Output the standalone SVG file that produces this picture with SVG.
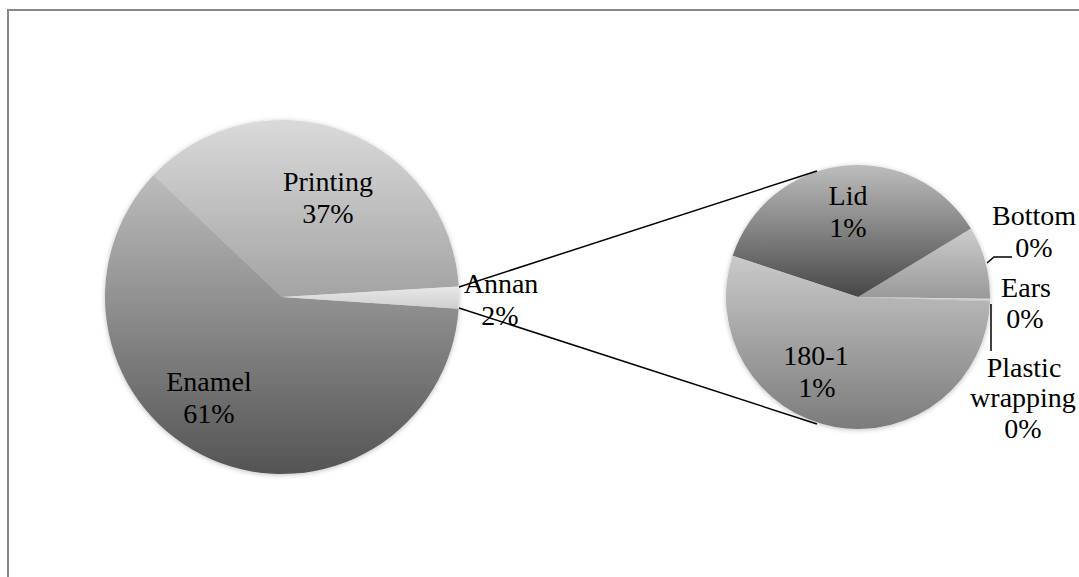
<svg xmlns="http://www.w3.org/2000/svg" width="1079" height="577" viewBox="0 0 1079 577">
<style>
.lbl{font-family:"Liberation Serif","Times New Roman",serif;font-size:28px;fill:#000;text-anchor:middle}
.conn{stroke:#000;stroke-width:1.5;fill:none}
</style>
<defs>
<filter id="sh" x="-10%" y="-10%" width="120%" height="120%">
<feDropShadow dx="0" dy="1" stdDeviation="2.5" flood-color="#000" flood-opacity="0.25"/>
</filter>
<linearGradient id="gPrint" gradientUnits="userSpaceOnUse" x1="0" y1="120" x2="0" y2="297"><stop offset="0" stop-color="#dadada"/><stop offset="1" stop-color="#a3a3a3"/></linearGradient>
<linearGradient id="gEnamel" gradientUnits="userSpaceOnUse" x1="0" y1="175" x2="0" y2="474"><stop offset="0" stop-color="#bcbcbc"/><stop offset="1" stop-color="#545454"/></linearGradient>
<linearGradient id="gAnnan" gradientUnits="userSpaceOnUse" x1="0" y1="286" x2="0" y2="309"><stop offset="0" stop-color="#e8e8e8"/><stop offset="1" stop-color="#cfcfcf"/></linearGradient>
<linearGradient id="gLid" gradientUnits="userSpaceOnUse" x1="0" y1="165" x2="0" y2="297"><stop offset="0" stop-color="#bdbdbd"/><stop offset="1" stop-color="#474747"/></linearGradient>
<linearGradient id="gBottom" gradientUnits="userSpaceOnUse" x1="0" y1="228" x2="0" y2="297"><stop offset="0" stop-color="#cdcdcd"/><stop offset="1" stop-color="#9a9a9a"/></linearGradient>
<linearGradient id="g180" gradientUnits="userSpaceOnUse" x1="0" y1="255" x2="0" y2="429"><stop offset="0" stop-color="#cacaca"/><stop offset="1" stop-color="#7b7b7b"/></linearGradient>
</defs>
<rect width="1079" height="577" fill="#fff"/>
<path d="M8,577 V10 H1079" fill="none" stroke="#888" stroke-width="2"/>

<g id="main-pie" filter="url(#sh)">
<g id="printing"><path d="M282,297 L458.69,286.50 A177,177 0 0 0 153.43,175.35 Z" fill="url(#gPrint)"/></g>
<g id="enamel"><path d="M282,297 L153.43,175.35 A177,177 0 1 0 458.61,308.73 Z" fill="url(#gEnamel)"/></g>
<g id="annan"><path d="M282,297 L458.61,308.73 A177,177 0 0 0 458.69,286.50 Z" fill="url(#gAnnan)"/></g>
</g>

<g id="secondary-pie" filter="url(#sh)">
<g id="bottom"><path d="M858,297 L989.99,298.84 A132,132 0 0 0 970.93,228.62 Z" fill="url(#gBottom)"/></g>
<g id="lid"><path d="M858,297 L970.93,228.62 A132,132 0 0 0 732.60,255.77 Z" fill="url(#gLid)"/></g>
<g id="n180-1"><path d="M858,297 L732.60,255.77 A132,132 0 1 0 989.94,301.15 Z" fill="url(#g180)"/></g>
<g id="plastic"><path d="M858,297 L989.94,301.15 A132,132 0 0 0 989.97,299.76 Z" fill="#c4c4c4"/></g>
<g id="ears"><path d="M858,297 L989.97,299.76 A132,132 0 0 0 989.99,298.84 Z" fill="#d6d6d6"/></g>
</g>

<g id="connectors">
<line class="conn" x1="459" y1="287" x2="817" y2="171"/>
<line class="conn" x1="459" y1="308" x2="817" y2="424"/>
<polyline class="conn" points="987,263 994,257 1012,257"/>
<line class="conn" x1="991" y1="304" x2="991" y2="351"/>
</g>

<g id="labels">
<text class="lbl" x="328" y="191">Printing</text>
<text class="lbl" x="328" y="223">37%</text>
<text class="lbl" x="209" y="391">Enamel</text>
<text class="lbl" x="209" y="423">61%</text>
<text class="lbl" x="501" y="293">Annan</text>
<text class="lbl" x="500" y="325">2%</text>
<text class="lbl" x="848" y="205">Lid</text>
<text class="lbl" x="848" y="237">1%</text>
<text class="lbl" x="816" y="365">180-1</text>
<text class="lbl" x="817" y="397">1%</text>
<text class="lbl" x="1034" y="225">Bottom</text>
<text class="lbl" x="1034" y="257">0%</text>
<text class="lbl" x="1026" y="297">Ears</text>
<text class="lbl" x="1025" y="328">0%</text>
<text class="lbl" x="1024" y="377">Plastic</text>
<text class="lbl" x="1023" y="407">wrapping</text>
<text class="lbl" x="1023" y="438">0%</text>
</g>
</svg>
